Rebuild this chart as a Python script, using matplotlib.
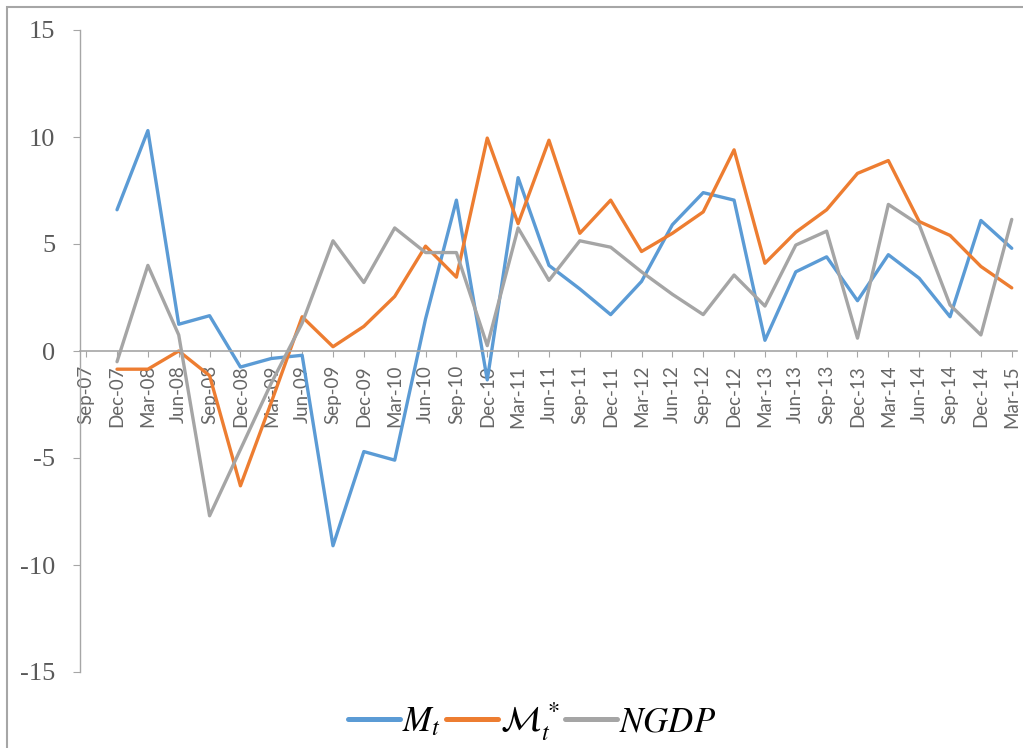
import matplotlib
matplotlib.use('Agg')
import matplotlib.pyplot as plt
from matplotlib.patches import Rectangle
import numpy as np

plt.rcParams['mathtext.fontset'] = 'stix'
plt.rcParams['axes.unicode_minus'] = False

quarters = ['Sep-07', 'Dec-07', 'Mar-08', 'Jun-08', 'Sep-08', 'Dec-08', 'Mar-09', 'Jun-09',
            'Sep-09', 'Dec-09', 'Mar-10', 'Jun-10', 'Sep-10', 'Dec-10', 'Mar-11', 'Jun-11',
            'Sep-11', 'Dec-11', 'Mar-12', 'Jun-12', 'Sep-12', 'Dec-12', 'Mar-13', 'Jun-13',
            'Sep-13', 'Dec-13', 'Mar-14', 'Jun-14', 'Sep-14', 'Dec-14', 'Mar-15']

# M_t
m_t = [np.nan, 6.6, 10.3, 1.25, 1.65, -0.75, -0.35, -0.2, -9.1, -4.7, -5.1, 1.5, 7.05, -1.35,
       8.1, 4.0, 2.9, 1.7, 3.25, 5.9, 7.4, 7.05, 0.5, 3.7, 4.4, 2.35, 4.5, 3.4, 1.6, 6.1, 4.8]
# script M*_t
m_star = [np.nan, -0.85, -0.85, 0.0, -1.15, -6.3, -2.4, 1.6, 0.2, 1.15, 2.55, 4.9, 3.45, 9.95,
          5.95, 9.85, 5.5, 7.05, 4.65, 5.5, 6.5, 9.4, 4.1, 5.55, 6.6, 8.3, 8.9, 6.05, 5.4, 3.95, 2.95]
# NGDP
ngdp = [np.nan, -0.5, 4.0, 0.75, -7.7, -4.6, -1.5, 1.3, 5.15, 3.2, 5.75, 4.6, 4.6, 0.25,
        5.75, 3.3, 5.15, 4.85, 3.7, 2.65, 1.7, 3.55, 2.1, 4.95, 5.6, 0.6, 6.85, 5.9, 2.15, 0.75, 6.15]

fig = plt.figure(figsize=(10.23, 7.48), dpi=100)
ax = fig.add_axes([80 / 1023, 1 - 672 / 748, (1017 - 80) / 1023, (672 - 30) / 748])

x = np.arange(len(quarters))
style = dict(lw=2.4, solid_joinstyle='round', solid_capstyle='round')
ax.plot(x, m_t, color='#5B9BD5', label=r'$M_t$', **style)
ax.plot(x, m_star, color='#ED7D31', label=r'$\mathcal{M}_t^{\,*}$', **style)
ax.plot(x, ngdp, color='#A5A5A5', label=r'$NGDP$', **style)

ax.set_xlim(-0.2, 30.17)
ax.set_ylim(-15, 15)

for s in ['top', 'right']:
    ax.spines[s].set_visible(False)
ax.spines['bottom'].set_position(('data', 0))
ax.spines['bottom'].set_color('#A6A6A6')
ax.spines['left'].set_color('#A6A6A6')
ax.spines['bottom'].set_linewidth(1.2)
ax.spines['left'].set_linewidth(1.0)

ax.set_xticks(x)
ax.set_xticklabels(quarters, rotation=90, fontsize=13.5, family='Lato', color='#666666')
ax.tick_params(axis='x', direction='out', length=4, color='#A6A6A6', pad=6)

ax.set_yticks(range(-15, 16, 5))
ax.set_yticklabels([str(v) for v in range(-15, 16, 5)], fontsize=19,
                   family='Liberation Serif', color='#595959')
ax.tick_params(axis='y', direction='out', length=5, color='#A6A6A6', pad=13)

leg = ax.legend(loc='center', bbox_to_anchor=(0.52, 0.035), bbox_transform=fig.transFigure,
                ncol=3, frameon=False, fontsize=25, handlelength=1.5, handletextpad=0.05,
                columnspacing=0.15)
for h in leg.get_lines():
    h.set_linewidth(3.6)

fig.patches.append(Rectangle((7 / 1023, -0.1), 1.2, 1.1 - 7 / 748, transform=fig.transFigure,
                             fill=False, ec='#A6A6A6', lw=1.5))

fig.savefig('out.png', dpi=100)
